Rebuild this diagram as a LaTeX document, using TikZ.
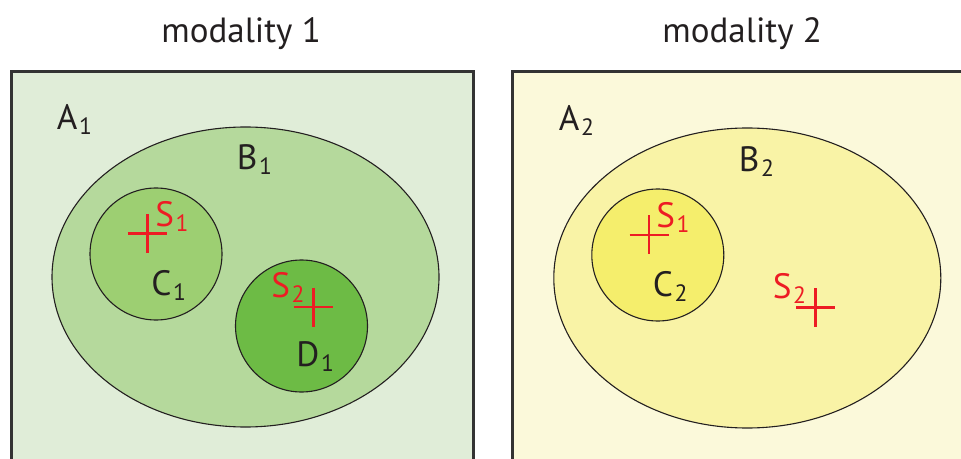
\documentclass[tikz,border=0pt]{standalone}
\usepackage{fontspec}
\setsansfont{PT Sans}
\usepackage{xcolor}
\definecolor{ink}{HTML}{231F20}
\definecolor{frame}{HTML}{333333}
\definecolor{stimred}{HTML}{ED1C24}
\definecolor{greenA}{HTML}{E0EDD8}
\definecolor{greenB}{HTML}{B5D99C}
\definecolor{greenC}{HTML}{9DCF72}
\definecolor{greenD}{HTML}{6DBB45}
\definecolor{yellowA}{HTML}{FBF9DA}
\definecolor{yellowB}{HTML}{F9F3A6}
\definecolor{yellowC}{HTML}{F5EE6C}
\usepackage{tikz}
\usetikzlibrary{shapes.geometric}

\newcommand{\subidx}[1]{\kern0.8pt\raisebox{-2.5pt}{\fontsize{11.8}{12}\selectfont #1}}

\begin{document}
\begin{tikzpicture}[
  x=0.5pt, y=-0.5pt,
  font=\sffamily\fontsize{17.6}{19}\selectfont,
  panel/.style={draw=frame, line width=1.5pt},
  region/.style={draw=ink, line width=0.55pt, inner sep=0pt, outer sep=0pt},
  blob/.style={region, ellipse, minimum width=193.5pt, minimum height=150pt},
  disc/.style={region, circle, minimum size=66pt},
  setlabel/.style={text=ink, anchor=base west, inner sep=0pt},
  stimlabel/.style={text=stimred, anchor=base west, inner sep=0pt},
  stim/.style={draw=stimred, line width=1.3pt},
  title/.style={text=ink, anchor=base west, inner sep=0pt,
    font=\sffamily\fontsize{17.5}{19}\selectfont}
]
  \useasboundingbox (0,0) rectangle (961,459);
  \clip (0,0) rectangle (961,459);

  % modality 1
  \node[title] (t1) at (161,43) {modality 1};
  \draw[panel, fill=greenA] (11.3,71.3) rectangle (473.3,480);
  \node[blob, fill=greenB] (B1) at (245.5,277) {};
  \node[disc, fill=greenC] (C1) at (156,254) {};
  \node[disc, fill=greenD] (D1) at (301.5,326) {};

  \node[setlabel] (lA1) at (56.5,130) {A\subidx{1}};
  \node[setlabel] (lB1) at (236.5,170) {B\subidx{1}};
  \node[setlabel] (lC1) at (151,295) {C\subidx{1}};
  \node[setlabel] (lD1) at (296,366.7) {D\subidx{1}};

  \draw[stim] (147.2,233.8) +(-19.5,0) -- +(19.5,0) +(0,-19.5) -- +(0,19.5);
  \node[stimlabel] (s11) at (155,226.7) {S\subidx{1}};
  \draw[stim] (313.3,307) +(-19.5,0) -- +(19.5,0) +(0,-19.5) -- +(0,19.5);
  \node[stimlabel] (s21) at (271,297.3) {S\subidx{2}};

  % modality 2
  \node[title] (t2) at (662,43) {modality 2};
  \draw[panel, fill=yellowA] (512.5,72) rectangle (990,480);
  \node[blob, fill=yellowB] (B2) at (747.3,278) {};
  \node[disc, fill=yellowC] (C2) at (657.8,255) {};

  \node[setlabel] (lA2) at (558.5,130.7) {A\subidx{2}};
  \node[setlabel] (lB2) at (738.5,171.5) {B\subidx{2}};
  \node[setlabel] (lC2) at (652.5,296) {C\subidx{2}};

  \draw[stim] (649,235) +(-19.5,0) -- +(19.5,0) +(0,-19.5) -- +(0,19.5);
  \node[stimlabel] (s12) at (656,227.7) {S\subidx{1}};
  \draw[stim] (815.5,307.7) +(-19.5,0) -- +(19.5,0) +(0,-19.5) -- +(0,19.5);
  \node[stimlabel] (s22) at (772.5,298.3) {S\subidx{2}};
\end{tikzpicture}
\end{document}
